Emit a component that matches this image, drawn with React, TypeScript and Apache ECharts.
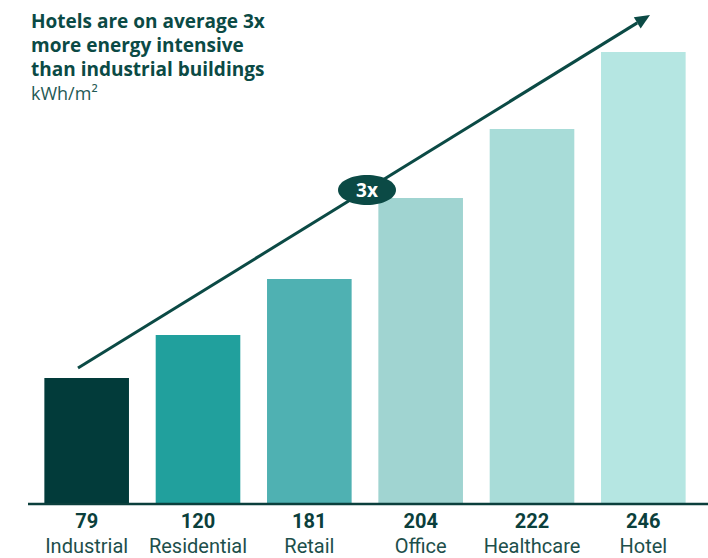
import React, { useEffect, useRef } from "react";
import * as echarts from "echarts";

const categories = ["Industrial", "Residential", "Retail", "Office", "Healthcare", "Hotel"];
const energyValues = [79, 120, 181, 204, 222, 246];
// bar heights as drawn in the reference (relative index, not proportional to labels)
const barHeights = [126, 169, 225, 306, 375, 452];
const barColors = ["#023b3a", "#21a09d", "#4fb1b2", "#a0d4d1", "#a8dcd8", "#b5e6e2"];

const titleLines = ["Hotels are on average 3x", "more energy intensive", "than industrial buildings"];
const unitLabel = "kWh/m²";
const multipleLabel = "3x";

export default function App() {
  const ref = useRef<HTMLDivElement>(null);
  useEffect(() => {
    if (!ref.current) return;
    document.body.style.margin = "0";
    const chart = echarts.init(ref.current, null, { renderer: "svg" });
    const tip = [650, 15];
    const start = [78, 368];
    const dx = tip[0] - start[0];
    const dy = tip[1] - start[1];
    const len = Math.sqrt(dx * dx + dy * dy);
    const ux = dx / len, uy = dy / len;
    const headL = 15, headW = 6.5;
    const bx = tip[0] - headL * ux, by = tip[1] - headL * uy;
    const nx = -uy, ny = ux;
    const titleEls = titleLines.map((t, i) => ({
      type: "text",
      left: 31,
      top: 10 + i * 24,
      style: {
        text: t,
        fontFamily: "Open Sans",
        fontWeight: "bold",
        fontSize: 19,
        lineHeight: 22,
        fill: "#0b4a45",
      },
    }));
    chart.setOption({
      animation: false,
      grid: { left: 31, right: 9, top: 52, bottom: 54, containLabel: false },
      xAxis: {
        type: "category",
        data: categories,
        axisTick: { show: false },
        axisLine: { show: false },
        axisLabel: {
          interval: 0,
          margin: 6,
          formatter: (v: string, i: number) => `{v|${energyValues[i]}}\n{c|${v}}`,
          rich: {
            v: { fontFamily: "Roboto", fontWeight: "bold", fontSize: 20, color: "#0b3f3c", lineHeight: 22 },
            c: { fontFamily: "Roboto", fontSize: 20, color: "#1d4f4b", lineHeight: 28 },
          },
        },
      },
      yAxis: { type: "value", min: 0, max: 452, show: false, splitLine: { show: false } },
      series: [
        {
          type: "bar",
          data: barHeights.map((h, i) => ({ value: h, itemStyle: { color: barColors[i] } })),
          barCategoryGap: "24%",
        },
      ],
      graphic: [
        {
          type: "line",
          shape: { x1: 28, y1: 504, x2: 708, y2: 504 },
          style: { stroke: "#0b3f3c", lineWidth: 2.5 },
          z: 5,
        },
        ...titleEls,
        {
          type: "text",
          left: 31,
          top: 84,
          style: { text: unitLabel, fontFamily: "Open Sans", fontSize: 18, fill: "#1f5a55" },
        },
        {
          type: "line",
          shape: { x1: start[0], y1: start[1], x2: bx, y2: by },
          style: { stroke: "#0b4a45", lineWidth: 3 },
          z: 10,
        },
        {
          type: "polygon",
          shape: {
            points: [
              [tip[0], tip[1]],
              [bx + headW * nx, by + headW * ny],
              [bx - headW * nx, by - headW * ny],
            ],
          },
          style: { fill: "#0b4a45" },
          z: 10,
        },
        {
          type: "ellipse",
          shape: { cx: 367, cy: 190, rx: 29, ry: 15 },
          style: { fill: "#0b4a45" },
          z: 11,
        },
        {
          type: "text",
          x: 367,
          y: 190,
          style: {
            text: multipleLabel,
            align: "center",
            verticalAlign: "middle",
            fontFamily: "Open Sans",
            fontWeight: "bold",
            fontSize: 19,
            fill: "#ffffff",
          },
          z: 12,
        },
      ],
    });
    return () => chart.dispose();
  }, []);
  return <div ref={ref} style={{ width: 708, height: 558 }} />;
}
